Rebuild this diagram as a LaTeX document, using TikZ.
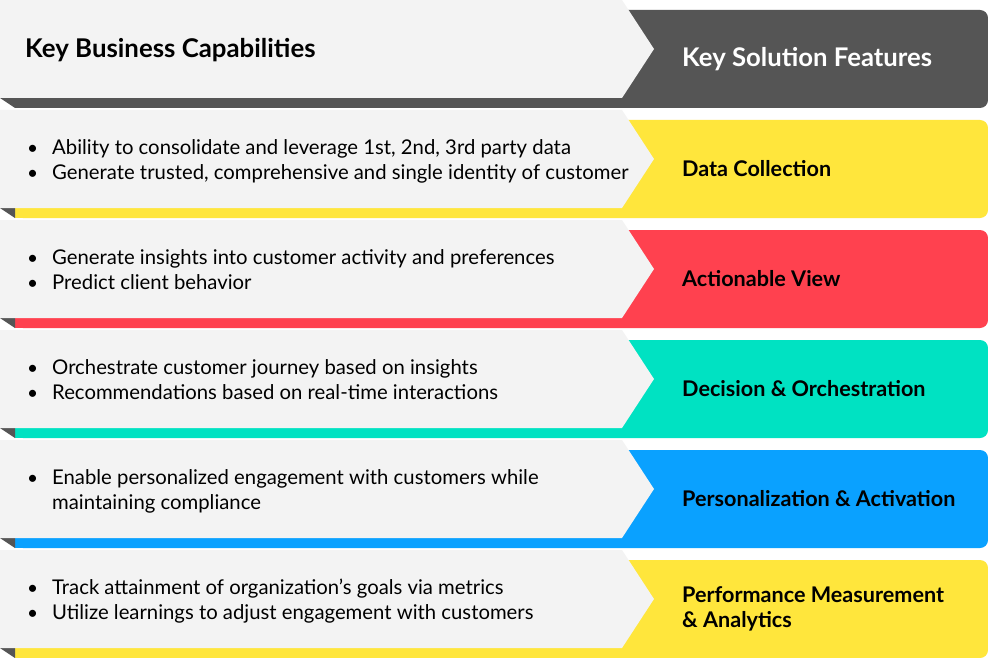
\documentclass[tikz,border=0pt]{standalone}
\usepackage{fontspec}
\setmainfont{Lato}
\definecolor{dk}{HTML}{555555}
\definecolor{lg}{HTML}{F3F3F3}
\definecolor{ylw}{HTML}{FFE63C}
\definecolor{rd}{HTML}{FF414F}
\definecolor{tl}{HTML}{00E2C2}
\definecolor{bl}{HTML}{0AA1FF}
\tikzset{
  txt/.style={anchor=base west, inner sep=0pt, font=\fontsize{20.3}{25}\selectfont, text=black},
  bul/.style={anchor=base west, inner sep=0pt, font=\fontsize{19}{25}\selectfont, text=black},
  lbl/.style={anchor=base west, inner sep=0pt, font=\fontsize{21.6}{25}\selectfont\bfseries, text=black},
  hdl/.style={anchor=base west, inner sep=0pt, font=\fontsize{25.8}{28}\selectfont\bfseries, text=black},
  hdr/.style={anchor=base west, inner sep=0pt, font=\fontsize{25.7}{28}\selectfont\bfseries, text=white},
}
\begin{document}
\begin{tikzpicture}[x=1pt,y=-1pt]
\useasboundingbox[fill=white] (0,0) rectangle (988,658);
\foreach \c [count=\i from 0] in {dk,ylw,rd,tl,bl,ylw} {
  \pgfmathsetmacro\yy{110*\i}
  \fill[\c, rounded corners=8pt] (15,\yy+10) rectangle (988,\yy+108);
  \fill[\c] (15,\yy+10) rectangle (600,\yy+108);
  \fill[dk] (0,\yy+98) -- (15,\yy+98) -- (15,\yy+108) -- cycle;
  \fill[lg] (0,\yy) -- (622,\yy) -- (654,\yy+49) -- (622,\yy+98) -- (0,\yy+98) -- cycle;
}
% header
\node[hdl] (h1) at (25,58) {Key Business Capabilities};
\node[hdr] (h2) at (682,67) {Key Solution Features};
% row 1
\node[bul] (b1a) at (27,154) {•};
\node[txt] (t1a) at (52,154) {Ability to consolidate and leverage 1st, 2nd, 3rd party data};
\node[bul] (b1b) at (27,179) {•};
\node[txt] (t1b) at (52,179) {Generate trusted, comprehensive and single identity of customer};
\node[lbl] (l1) at (682,176) {Data Collection};
% row 2
\node[bul] (b2a) at (27,264) {•};
\node[txt] (t2a) at (52,264) {Generate insights into customer activity and preferences};
\node[bul] (b2b) at (27,289) {•};
\node[txt] (t2b) at (52,289) {Predict client behavior};
\node[lbl] (l2) at (682,286) {Actionable View};
% row 3
\node[bul] (b3a) at (27,374) {•};
\node[txt] (t3a) at (52,374) {Orchestrate customer journey based on insights};
\node[bul] (b3b) at (27,399) {•};
\node[txt] (t3b) at (52,399) {Recommendations based on real-time interactions};
\node[lbl] (l3) at (682,396) {Decision \& Orchestration};
% row 4
\node[bul] (b4a) at (27,484) {•};
\node[txt] (t4a) at (52,484) {Enable personalized engagement with customers while};
\node[txt] (t4b) at (52,509) {maintaining compliance};
\node[lbl] (l4) at (682,506) {Personalization \& Activation};
% row 5
\node[bul] (b5a) at (27,594) {•};
\node[txt] (t5a) at (52,594) {Track attainment of organization’s goals via metrics};
\node[bul] (b5b) at (27,619) {•};
\node[txt] (t5b) at (52,619) {Utilize learnings to adjust engagement with customers};
\node[lbl] (l5a) at (682,602.5) {Performance Measurement};
\node[lbl] (l5b) at (682,627.5) {\& Analytics};
\end{tikzpicture}
\end{document}
